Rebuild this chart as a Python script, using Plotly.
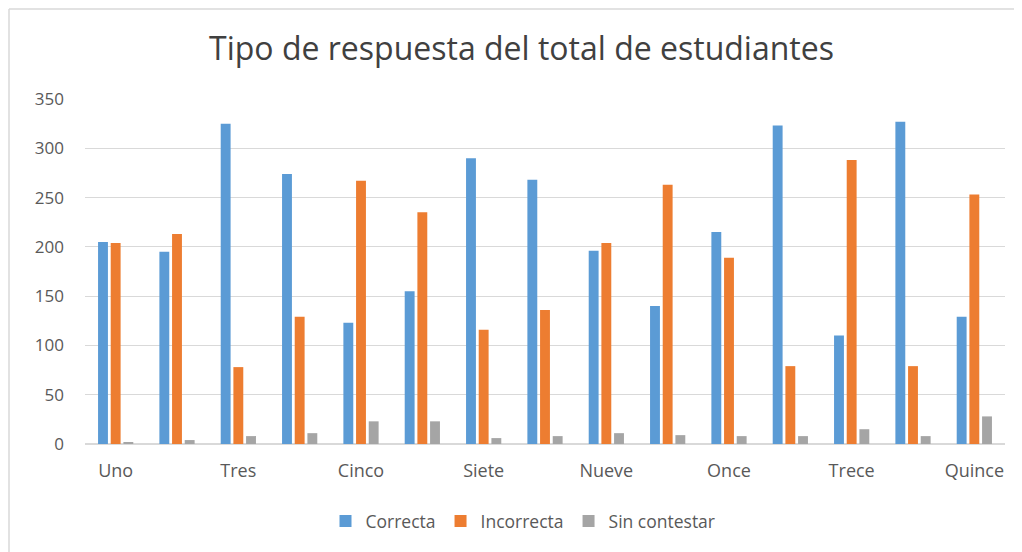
import plotly.graph_objects as go

categories = ["Uno", "Dos", "Tres", "Cuatro", "Cinco", "Seis", "Siete", "Ocho",
              "Nueve", "Diez", "Once", "Doce", "Trece", "Catorce", "Quince"]
correcta = [205, 195, 325, 274, 123, 155, 290, 268, 196, 140, 215, 323, 110, 327, 129]
incorrecta = [204, 213, 78, 129, 267, 235, 116, 136, 204, 263, 189, 79, 288, 79, 253]
sin_contestar = [2, 4, 8, 11, 23, 23, 6, 8, 11, 9, 8, 8, 15, 8, 28]
tick_labels = categories[::2]

series = [("Correcta", correcta, "#5B9BD5"),
          ("Incorrecta", incorrecta, "#ED7D31"),
          ("Sin contestar", sin_contestar, "#A5A5A5")]

FONT = "'Open Sans', Lato, sans-serif"

fig = go.Figure()
for name, vals, color in series:
    fig.add_trace(go.Bar(x=categories, y=vals, name=name, marker_color=color,
                         marker_line_width=0))

W, H = 1014, 544
L, R, T, B = 77, 17, 91, 108
PW, PH = W - L - R, H - T - B

fig.update_layout(
    width=W, height=H,
    paper_bgcolor="white", plot_bgcolor="white",
    font=dict(family=FONT, color="#595959", size=16),
    title=dict(text="Tipo de respuesta del total de estudiantes",
               xref="container", x=(521.5 - 8) / W, xanchor="center",
               yref="container", y=1 - 41 / H, yanchor="middle",
               font=dict(size=32, color="#404040", family=FONT)),
    margin=dict(l=L, r=R, t=T, b=B, autoexpand=False),
    barmode="group", bargap=0.38, bargroupgap=0.22,
    legend=dict(orientation="h", x=0.5 - 22 / PW, xanchor="center",
                y=-(513 - (T + PH)) / PH, yanchor="middle",
                font=dict(size=17.5, color="#595959"), itemwidth=30),
    xaxis=dict(tickmode="array", tickvals=tick_labels, ticktext=tick_labels,
               showgrid=False, showline=False, ticks="", tickfont=dict(size=18),
               ticklabelstandoff=14),
    yaxis=dict(range=[0, 350], dtick=50, showgrid=True, gridcolor="#D9D9D9",
               gridwidth=1, zeroline=True, zerolinecolor="#D9D9D9", ticks="",
               tickfont=dict(size=17), ticklabelstandoff=20),
    shapes=[
        dict(type="line", xref="paper", yref="paper",
             x0=-(L - 1) / PW, x1=1 + R / PW, y0=1 + (T - 1) / PH, y1=1 + (T - 1) / PH,
             line=dict(color="#D9D9D9", width=1.5)),
        dict(type="line", xref="paper", yref="paper",
             x0=-(L - 1) / PW, x1=-(L - 1) / PW, y0=-B / PH, y1=1 + (T - 1) / PH,
             line=dict(color="#D9D9D9", width=1.5)),
    ],
)

fig.write_html("out.html")
